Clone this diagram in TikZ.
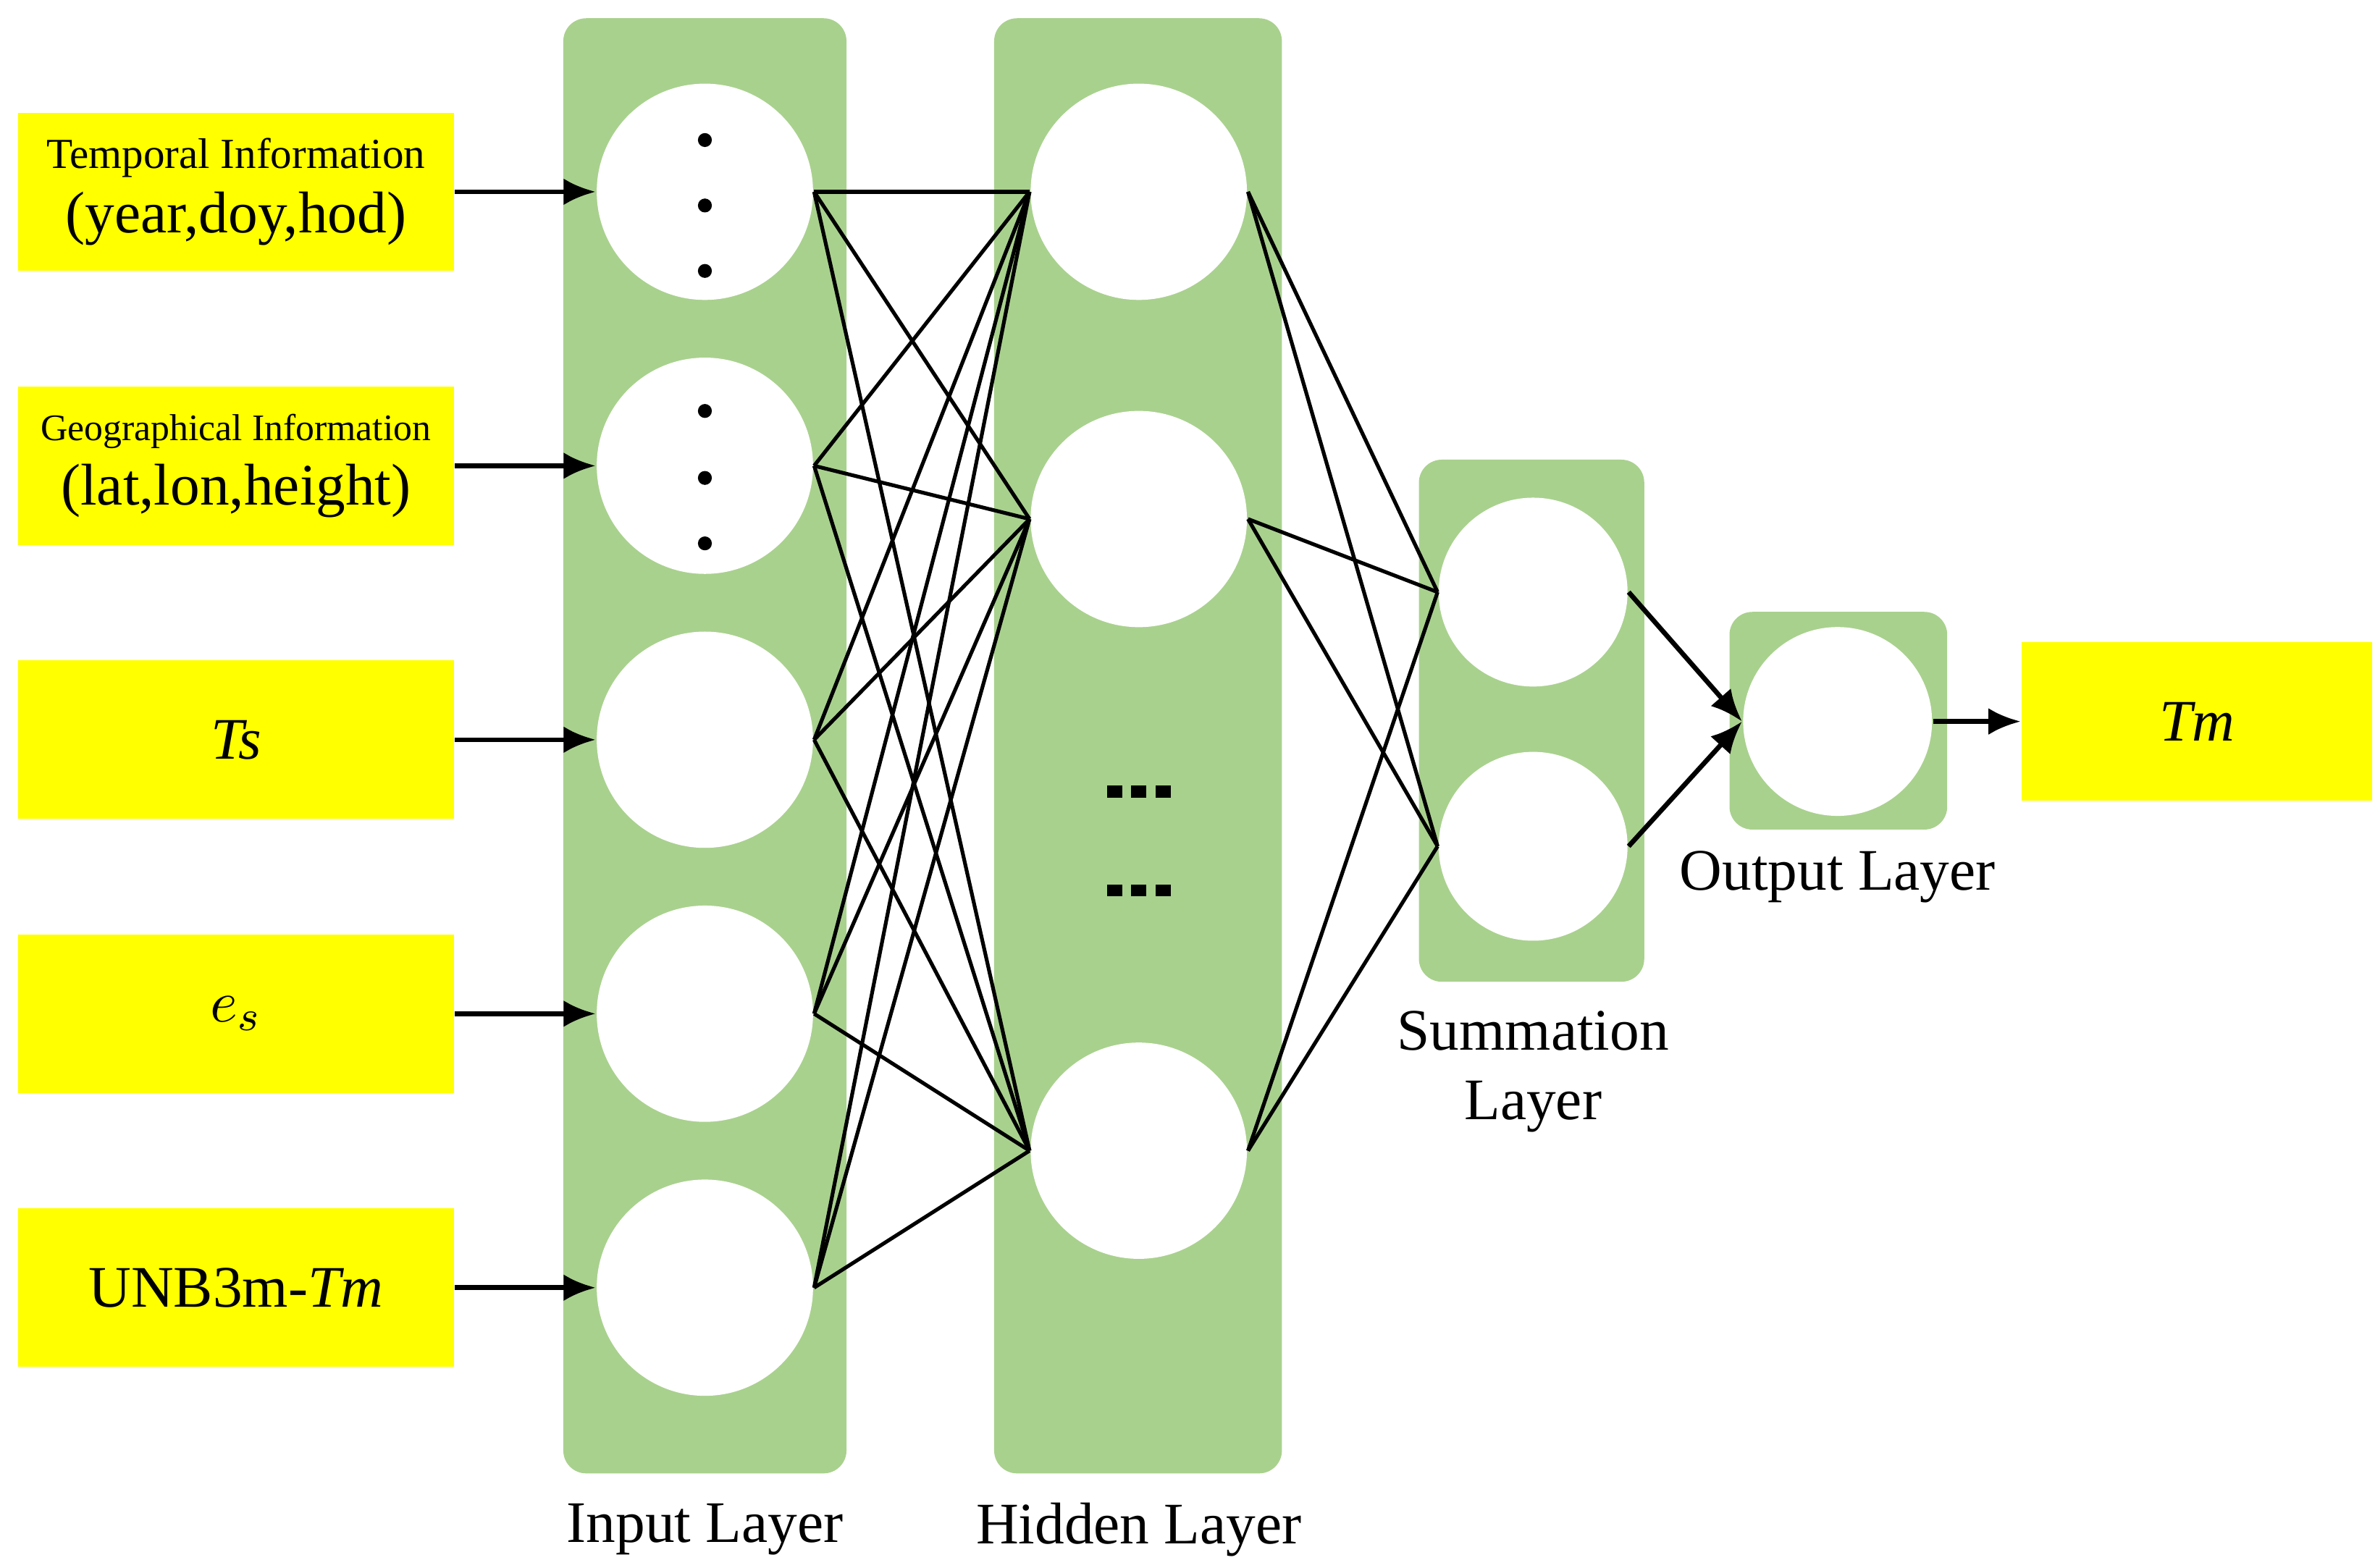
\documentclass[tikz,border=0pt]{standalone}
\usepackage{fontspec}
\setmainfont{Liberation Serif}
\usetikzlibrary{arrows.meta}
\definecolor{lg}{HTML}{A9D18E}
\definecolor{yl}{HTML}{FFFF00}
\begin{document}
\begin{tikzpicture}[x=0.01cm,y=-0.01cm,
 ybox/.style={fill=yl,draw=none,minimum width=2.86cm,minimum height=1.04cm,inner sep=0,align=center,font=\fontsize{11}{12}\selectfont},
 layer/.style={fill=lg,draw=none,rounded corners=0.15cm},
 neu/.style={circle,fill=white,draw=none,minimum size=1.42cm,inner sep=0},
 sneu/.style={circle,fill=white,draw=none,minimum size=1.24cm,inner sep=0},
 arr/.style={-{Latex[length=6pt,width=5pt]},line width=0.9pt},
 ln/.style={line width=0.7pt},
 lab/.style={font=\fontsize{11}{13}\selectfont,align=center}]
\useasboundingbox (0,0) rectangle (1560,1030);
% boxes
\node[ybox] (b1) at (155,126) {{\fontsize{8}{9}\selectfont Temporal Information}\\(year,doy,hod)};
\node[ybox] (b2) at (155,306) {{\fontsize{7}{8}\selectfont Geographical Information}\\(lat,lon,height)};
\node[ybox] (b3) at (155,486) {\textit{Ts}};
\node[ybox] (b4) at (155,666) {$e_s$};
\node[ybox] (b5) at (155,846) {UNB3m-\textit{Tm}};
\node[ybox,minimum width=2.30cm] (out) at (1443,474) {\textit{Tm}};
% layers
\fill[layer] (370,12) rectangle (556,968);
\fill[layer] (653,12) rectangle (842,968);
\fill[layer] (932,302) rectangle (1080,645);
\fill[layer] (1136,402) rectangle (1279,545);
\foreach \i/\y in {1/126,2/306,3/486,4/666,5/846} \node[neu] (i\i) at (463,\y) {};
\foreach \i/\y in {1/126,2/341,3/756} \node[neu] (h\i) at (748,\y) {};
\node[sneu] (s1) at (1007,389) {};
\node[sneu] (s2) at (1007,556) {};
\node[sneu] (o) at (1207,474) {};
\foreach \y in {92,135,178,270,314,357} \fill (463,\y) circle (1.3pt);
\foreach \y in {520,585} \foreach \x in {732,748,764} \fill (\x-5,\y-4) rectangle (\x+5,\y+4);
% arrows
\foreach \i in {1,...,5} \draw[arr] (b\i.east) -- (i\i.west);
\foreach \i in {1,...,5} \foreach \j in {1,2,3} \draw[ln] (i\i.east) -- (h\j.west);
\foreach \j in {1,2,3} \foreach \k in {1,2} \draw[ln] (h\j.east) -- (s\k.west);
\draw[arr] (s1.east) -- (o.west);
\draw[arr] (s2.east) -- (o.west);
\draw[arr] (o.east) -- (out.west);
% labels
\node[lab] (l1) at (463,1005) {Input Layer};
\node[lab] (l2) at (748,1005) {Hidden Layer};
\node[lab] (l3) at (1007,704) {Summation\\Layer};
\node[lab] (l4) at (1207,576) {Output Layer};
\end{tikzpicture}
\end{document}
